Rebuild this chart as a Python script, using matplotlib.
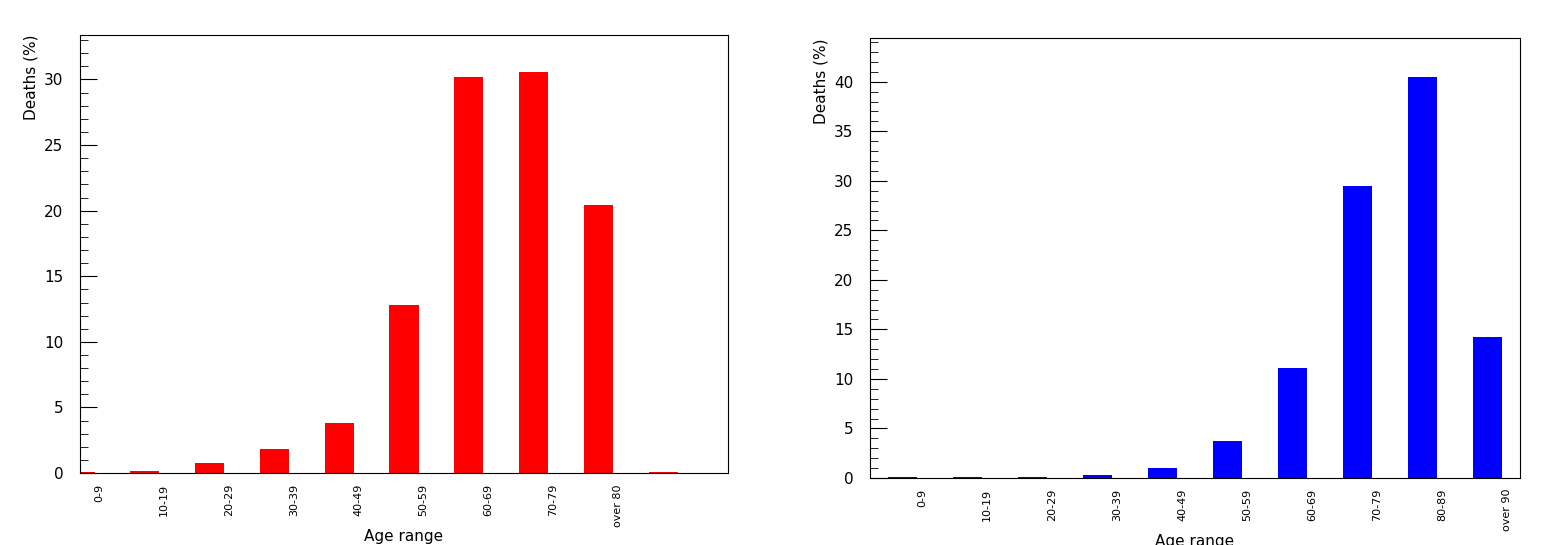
import matplotlib
matplotlib.use("Agg")
import matplotlib.pyplot as plt
from matplotlib.ticker import MultipleLocator
import matplotlib.transforms as mtrans

left_labels = ["0-9", "10-19", "20-29", "30-39", "40-49", "50-59", "60-69", "70-79", "over 80", ""]
left_vals = [0.05, 0.15, 0.8, 1.85, 3.8, 12.8, 30.2, 30.6, 20.4, 0.05]
right_labels = ["0-9", "10-19", "20-29", "30-39", "40-49", "50-59", "60-69", "70-79", "80-89", "over 90"]
right_vals = [0.05, 0.05, 0.05, 0.3, 1.0, 3.7, 11.1, 29.5, 40.5, 14.2]


def panel(rect, labels, vals, color, offset, ymax):
    ax = fig.add_axes(rect)
    xs = [i + offset for i in range(len(vals))]
    ax.bar(xs, vals, width=0.45, color=color)
    ax.set_xlim(0, 10)
    ax.set_ylim(0, ymax)
    ax.set_xticks([])
    ax.yaxis.set_major_locator(MultipleLocator(5))
    ax.yaxis.set_minor_locator(MultipleLocator(1))
    ax.tick_params(axis="y", which="major", direction="in", length=12, labelsize=11, pad=12)
    ax.tick_params(axis="y", which="minor", direction="in", length=6)
    ax.set_ylabel("Deaths (%)", fontsize=11, loc="top")
    ax.set_xlabel("Age range", fontsize=11, labelpad=40)
    trans = mtrans.blended_transform_factory(ax.transData, ax.transAxes)
    for x, lab in zip(xs, labels):
        ax.text(x + 0.3, -0.025, lab, rotation=90, ha="center", va="top",
                fontsize=8, transform=trans)
    for s in ax.spines.values():
        s.set_linewidth(0.8)
    return ax


fig = plt.figure(figsize=(15.47, 5.45), dpi=100)
panel([0.0517, 0.132, 0.4189, 0.804], left_labels, left_vals, "#ff0000", 0.0, 33.4)
panel([0.5624, 0.123, 0.4201, 0.807], right_labels, right_vals, "#0000ff", 0.5, 44.4)
fig.savefig("out.png", dpi=100)
